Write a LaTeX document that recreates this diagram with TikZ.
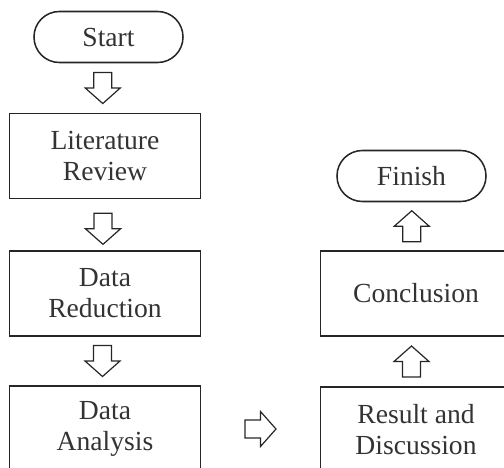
\documentclass[tikz,border=0pt]{standalone}
\usepackage{fontspec}
\setmainfont{Liberation Serif}
\usetikzlibrary{calc}

\tikzset{every picture/.style={line width=0.75pt}}
\tikzset{
  stepbox/.style={draw=black!85, line width=1.15pt, minimum width=143pt, minimum height=63.75pt, inner sep=0pt, align=center, text=black!80, font=\fontsize{20.7}{23.25}\selectfont},
  termbox/.style={stepbox, rounded corners=19pt, minimum width=111.75pt, minimum height=38.25pt},
  blockarrow/.pic={
    \draw [draw=black!85, line width=0.9pt, line join=miter] (-9,-15.5) -- (9,-15.5) -- (9,0) -- (17.5,0) -- (0,15.5) -- (-17.5,0) -- (-9,0) -- cycle ;
  }
}

\begin{document}
\begin{tikzpicture}[x=0.75pt,y=0.75pt,yscale=-1,xscale=1]
  \useasboundingbox (0,0) rectangle (504,468);
  \clip (0,0) rectangle (504,468);

  % Left column
  \node [termbox] (start) at (108.5,37) {Start};
  \node [stepbox] (lit) at (105,156) {Literature\\Review};
  \node [stepbox] (red) at (105,293.5) {Data\\Reduction};
  \node [stepbox] (ana) at (105,428.5) {Data\\Analysis};

  % Right column
  \node [stepbox] (res) at (416,429.5) {Result and\\Discussion};
  \node [stepbox] (con) at (416,293.5) {Conclusion};
  \node [termbox] (fin) at (411.5,176) {Finish};

  % Block arrows
  \pic [rotate=180] at ($(start.south)!0.5!(lit.north)+(-4,0)$) {blockarrow};
  \pic [rotate=180] at ($(lit.south)!0.58!(red.north)+(-2,0)$) {blockarrow};
  \pic [rotate=180] at ($(red.south)!0.5!(ana.north)+(-2.5,0)$) {blockarrow};
  \pic [rotate=-90] at ($(ana.east)!0.5!(res.west)$) {blockarrow};
  \pic at ($(con.south)!0.5!(res.north)+(-4.5,0)$) {blockarrow};
  \pic at ($(fin.south)!0.5!(con.north)+(-2,0)$) {blockarrow};

\end{tikzpicture}
\end{document}
